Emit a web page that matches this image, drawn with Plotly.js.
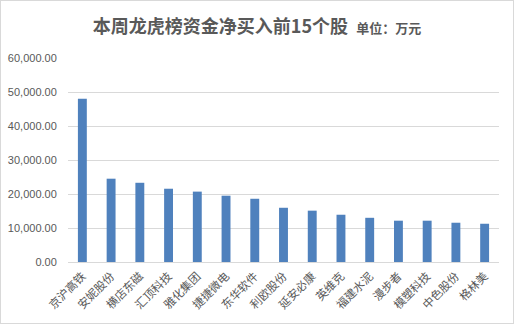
<!DOCTYPE html>
<html><head><meta charset="utf-8">
<script src="https://cdn.plot.ly/plotly-3.0.1.min.js"></script>
<style>
html,body{margin:0;padding:0;background:#fff;}
#wrap{position:relative;width:514px;height:324px;}
#frame{position:absolute;left:0;top:0;width:512px;height:322px;border:1px solid #d9d9d9;pointer-events:none;}
</style>
</head><body>
<div id="wrap"><div id="chart" style="width:514px;height:324px;"></div><div id="frame"></div></div>
<script>
const categories = ["京沪高铁","安妮股份","横店东磁","汇顶科技","雅化集团","捷捷微电","东华软件","利欧股份","延安必康","英维克","福建水泥","漫步者","模塑科技","中色股份","格林美"];
const netBuy = [48000, 24500, 23300, 21550, 20700, 19500, 18600, 15950, 15100, 13900, 13000, 12150, 12150, 11550, 11250];
const titleMain = "本周龙虎榜资金净买入前15个股";
const titleUnit = "单位：万元";

const data = [{
  type: 'bar',
  x: categories,
  y: netBuy,
  marker: {color: '#4f81bd'},
  hoverinfo: 'x+y'
}];
const layout = {
  width: 514, height: 324,
  margin: {l: 68, r: 15, t: 58, b: 62},
  paper_bgcolor: '#fff', plot_bgcolor: '#fff',
  bargap: 0.69,
  showlegend: false,
  title: {
    text: '<b>' + titleMain + '</b>  <span style="font-size:13px"><b>' + titleUnit + '</b></span>',
    font: {family: '"Noto Sans CJK SC", "Liberation Sans", sans-serif', size: 18, color: '#595959'},
    x: 0.5, xref: 'container', xanchor: 'center',
    y: 1 - 27/324, yref: 'container', yanchor: 'middle'
  },
  xaxis: {
    type: 'category',
    tickangle: -45,
    tickfont: {family: '"Noto Sans CJK SC", sans-serif', size: 11.5, color: '#595959'},
    showgrid: false, showline: false, zeroline: false,
    ticks: 'outside', ticklen: 2, tickcolor: 'rgba(0,0,0,0)',
    fixedrange: true
  },
  yaxis: {
    range: [0, 60000],
    dtick: 10000,
    tickformat: ',.2f',
    tickfont: {family: '"Liberation Sans", Arial, sans-serif', size: 11, color: '#595959'},
    showgrid: true, gridcolor: '#d9d9d9', gridwidth: 1,
    zeroline: true, zerolinecolor: '#d9d9d9', zerolinewidth: 1,
    showline: false,
    ticks: 'outside', ticklen: 8, tickcolor: 'rgba(0,0,0,0)',
    fixedrange: true
  }
};
Plotly.newPlot('chart', data, layout, {displayModeBar: false, staticPlot: true});
</script>
</body></html>
